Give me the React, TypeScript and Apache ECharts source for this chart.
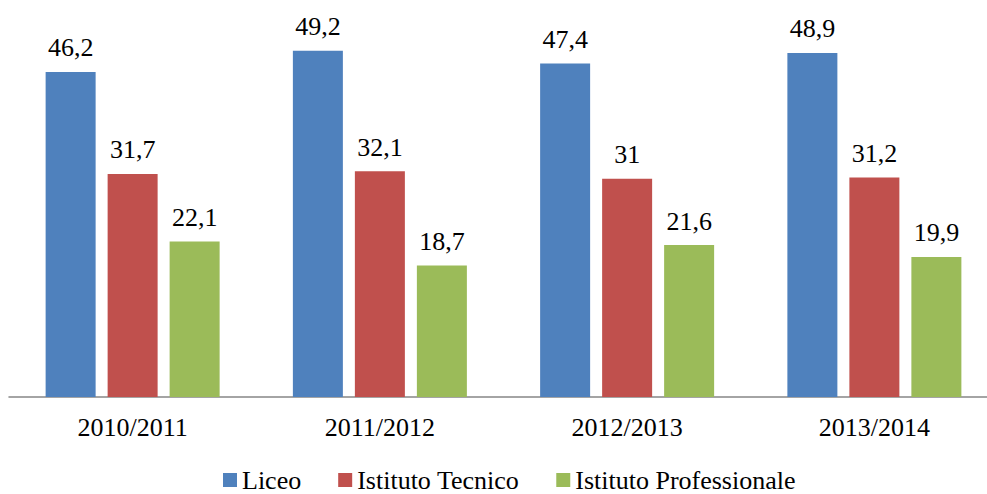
import React, { useEffect, useRef } from "react";
import * as echarts from "echarts";

const categories = ["2010/2011", "2011/2012", "2012/2013", "2013/2014"];
const liceo = [46.2, 49.2, 47.4, 48.9];
const tecnico = [31.7, 32.1, 31, 31.2];
const professionale = [22.1, 18.7, 21.6, 19.9];
const seriesNames = ["Liceo", "Istituto Tecnico", "Istituto Professionale"];
const colors = ["#4F81BD", "#C0504D", "#9BBB59"];

const FONT = "Liberation Serif, Times New Roman, serif";

export default function App() {
  const ref = useRef<HTMLDivElement>(null);
  useEffect(() => {
    document.body.style.margin = "0";
    if (!ref.current) return;
    const chart = echarts.init(ref.current, undefined, { renderer: "svg" });
    const fmt = (p: any) => String(p.value).replace(".", ",");
    const mk = (name: string, data: number[], color: string) => ({
      name,
      type: "bar",
      data,
      barWidth: 50,
      barGap: "24%",
      itemStyle: { color },
      label: {
        show: true,
        position: "top",
        distance: 11,
        formatter: fmt,
        fontFamily: FONT,
        fontSize: 26,
        color: "#000",
      },
    });
    chart.setOption({
      animation: false,
      color: colors,
      textStyle: { fontFamily: FONT },
      legend: {
        data: seriesNames,
        left: 218,
        top: 462,
        itemWidth: 14,
        itemHeight: 14,
        itemGap: 37,
        icon: "rect",
        textStyle: { fontFamily: FONT, fontSize: 26, color: "#000" },
      },
      grid: { left: 9, width: 989, top: 10, height: 387, outerBoundsMode: "none" },
      xAxis: {
        type: "category",
        data: categories,
        axisLine: { show: true, lineStyle: { color: "#868686", width: 1.5 } },
        axisTick: { show: false },
        axisLabel: { fontFamily: FONT, fontSize: 26, color: "#000", margin: 17 },
      },
      yAxis: {
        type: "value",
        min: 0,
        max: 55,
        show: false,
        splitLine: { show: false },
      },
      series: [
        mk(seriesNames[0], liceo, colors[0]),
        mk(seriesNames[1], tecnico, colors[1]),
        mk(seriesNames[2], professionale, colors[2]),
      ],
    });
    return () => chart.dispose();
  }, []);
  return <div ref={ref} style={{ width: 987, height: 494, position: "absolute", left: 0, top: 0 }} />;
}
